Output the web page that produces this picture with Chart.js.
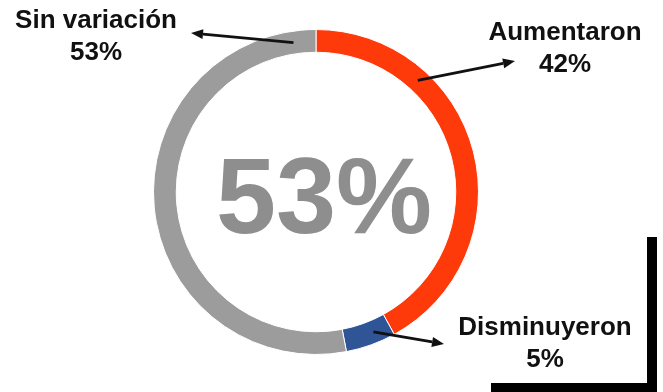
<!DOCTYPE html>
<html>
<head>
<meta charset="utf-8">
<script src="https://cdn.jsdelivr.net/npm/chart.js@4.4.1/dist/chart.umd.min.js"></script>
<style>
  html, body { margin: 0; padding: 0; background: #ffffff; }
  #wrap { position: relative; width: 663px; height: 392px; }
</style>
</head>
<body>
<div id="wrap"><canvas id="ringChart" width="663" height="392"></canvas></div>
<script>
// Data
const categories = ['Aumentaron', 'Disminuyeron', 'Sin variación'];
const shares = [42, 5, 53];
const sliceColors = ['#ff3a0a', '#2f5597', '#9c9c9c'];

// Where each callout text sits, and where its arrow points
// t = fraction along the slice where the arrow starts
const callouts = [
    { x: 565, y: 33, tipX: 515, tipY: 61, t: 0.28 },
    { x: 545, y: 328, tipX: 444, tipY: 344, t: 0.36 },
    { x: 96, y: 21, tipX: 191, tipY: 33, t: 0.955 }
];

const FONT = "'Liberation Sans', Arial, Helvetica, sans-serif";

function drawArrow(ctx, x0, y0, x1, y1) {
    const ang = Math.atan2(y1 - y0, x1 - x0);
    const headLen = 12, headW = 5;
    const bx = x1 - headLen * Math.cos(ang);
    const by = y1 - headLen * Math.sin(ang);
    ctx.beginPath();
    ctx.moveTo(x0, y0);
    ctx.lineTo(bx, by);
    ctx.stroke();
    ctx.beginPath();
    ctx.moveTo(x1, y1);
    ctx.lineTo(bx + headW * Math.sin(ang), by - headW * Math.cos(ang));
    ctx.lineTo(bx - headW * Math.sin(ang), by + headW * Math.cos(ang));
    ctx.closePath();
    ctx.fill();
}

// Big number in the hole, callouts with arrows, and the black corner frame
const overlayPlugin = {
    id: 'overlay',
    afterDraw(chart) {
        const ctx = chart.ctx;
        const arcs = chart.getDatasetMeta(0).data;
        const cx = arcs[0].x, cy = arcs[0].y;

        ctx.save();
        ctx.fillStyle = '#8e8e8e';
        ctx.font = 'bold 108px ' + FONT;
        ctx.textAlign = 'center';
        ctx.textBaseline = 'middle';
        ctx.fillText(shares[2] + '%', cx + 8, cy + 11);

        ctx.fillStyle = '#111111';
        ctx.strokeStyle = '#111111';
        ctx.lineWidth = 2.8;
        ctx.font = 'bold 26px ' + FONT;
        callouts.forEach((c, i) => {
            const arc = arcs[i];
            const a = arc.startAngle + c.t * (arc.endAngle - arc.startAngle);
            const r = (arc.innerRadius + arc.outerRadius) / 2;
            drawArrow(ctx, cx + r * Math.cos(a), cy + r * Math.sin(a), c.tipX, c.tipY);
            ctx.fillText(categories[i], c.x, c.y);
            ctx.fillText(shares[i] + '%', c.x, c.y + 32);
        });

        // corner frame at the lower right
        ctx.fillStyle = '#000000';
        ctx.fillRect(647, 237, 10, 155);
        ctx.fillRect(491, 383, 166, 9);
        ctx.restore();
    }
};

const ctx = document.getElementById('ringChart').getContext('2d');
const ringChart = new Chart(ctx, {
    type: 'doughnut',
    data: {
        labels: categories,
        datasets: [{
            data: shares,
            backgroundColor: sliceColors,
            borderColor: '#ffffff',
            borderWidth: 1
        }]
    },
    options: {
        responsive: false,
        animation: false,
        cutout: '86%',
        layout: {
            padding: { left: 153, right: 184, top: 29, bottom: 37 }
        },
        plugins: {
            legend: { display: false },
            tooltip: { enabled: false }
        }
    },
    plugins: [overlayPlugin]
});
</script>
</body>
</html>
